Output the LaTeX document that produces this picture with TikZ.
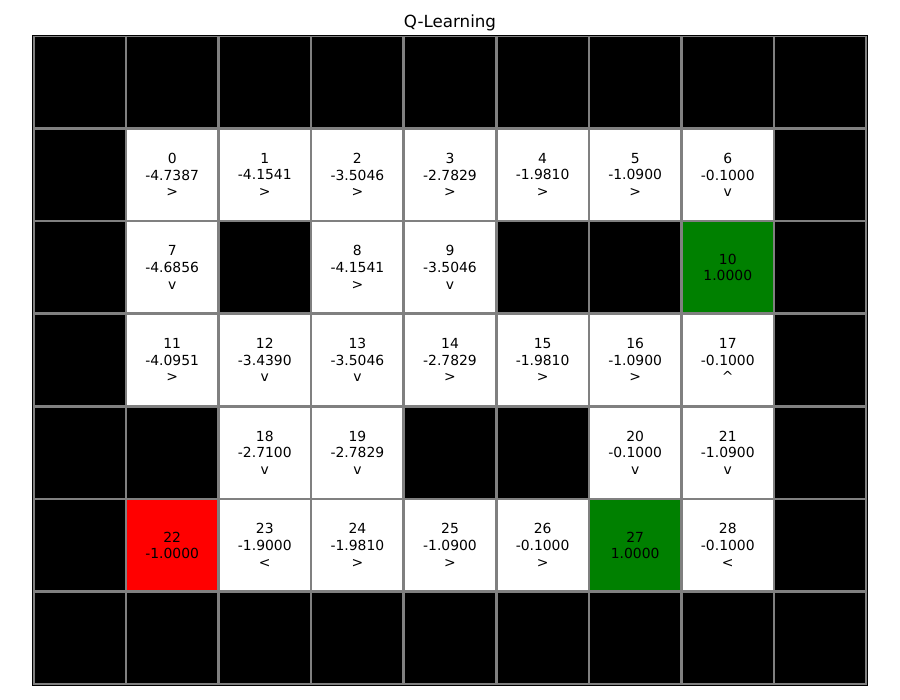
\documentclass[tikz,border=0pt]{standalone}
\usepackage{fontspec}
\setmainfont{DejaVu Sans}
\definecolor{gridgray}{HTML}{808080}
\definecolor{goalgreen}{HTML}{008000}
\definecolor{pitred}{HTML}{FF0000}
\newcommand{\cellfont}{\fontsize{13.9}{16.7}\selectfont}
\newcommand{\titlefont}{\fontsize{16.7}{20}\selectfont}
\begin{document}
\begin{tikzpicture}[x=1pt,y=-1pt,
  cell/.style={draw=gridgray, line width=2.6pt, minimum width=92.6pt, minimum height=92.6pt,
    inner sep=0pt, outer sep=0pt, align=center, font=\cellfont, text=black},
  wallcell/.style={cell, fill=black},
  opencell/.style={cell, fill=white},
  goalcell/.style={cell, fill=goalgreen},
  pitcell/.style={cell, fill=pitred}]
\useasboundingbox (0,0) rectangle (900,700);
\node[font=\titlefont] (title) at (450,22.5) {Q-Learning};
% walls
\foreach \c/\r in {0/0,1/0,2/0,3/0,4/0,5/0,6/0,7/0,8/0,
  0/1,8/1, 0/2,2/2,5/2,6/2,8/2, 0/3,8/3, 0/4,1/4,4/4,5/4,8/4, 0/5,8/5,
  0/6,1/6,2/6,3/6,4/6,5/6,6/6,7/6,8/6}
  \node[wallcell] (cell-\c-\r) at ({79.6+92.6*\c},{82.3+92.6*\r}) {};
% open states
\foreach \c/\r/\t in {
  1/1/{0\\-4.7387\\>}, 2/1/{1\\-4.1541\\>}, 3/1/{2\\-3.5046\\>}, 4/1/{3\\-2.7829\\>},
  5/1/{4\\-1.9810\\>}, 6/1/{5\\-1.0900\\>}, 7/1/{6\\-0.1000\\v},
  1/2/{7\\-4.6856\\v}, 3/2/{8\\-4.1541\\>}, 4/2/{9\\-3.5046\\v},
  1/3/{11\\-4.0951\\>}, 2/3/{12\\-3.4390\\v}, 3/3/{13\\-3.5046\\v}, 4/3/{14\\-2.7829\\>},
  5/3/{15\\-1.9810\\>}, 6/3/{16\\-1.0900\\>}, 7/3/{17\\-0.1000\\\textasciicircum},
  2/4/{18\\-2.7100\\v}, 3/4/{19\\-2.7829\\v}, 6/4/{20\\-0.1000\\v}, 7/4/{21\\-1.0900\\v},
  2/5/{23\\-1.9000\\<}, 3/5/{24\\-1.9810\\>}, 4/5/{25\\-1.0900\\>}, 5/5/{26\\-0.1000\\>},
  7/5/{28\\-0.1000\\<}}
  \node[opencell] (cell-\c-\r) at ({79.6+92.6*\c},{82.3+92.6*\r}) {\t};
% terminal states
\node[goalcell] (cell-7-2) at ({79.6+92.6*7},{82.3+92.6*2}) {10\\1.0000};
\node[goalcell] (cell-6-5) at ({79.6+92.6*6},{82.3+92.6*5}) {27\\1.0000};
\node[pitcell] (cell-1-5) at ({79.6+92.6*1},{82.3+92.6*5}) {22\\-1.0000};
% axes frame
\draw[black, line width=1pt] (32.6,35.3) rectangle (867.4,685.0);
\end{tikzpicture}
\end{document}
